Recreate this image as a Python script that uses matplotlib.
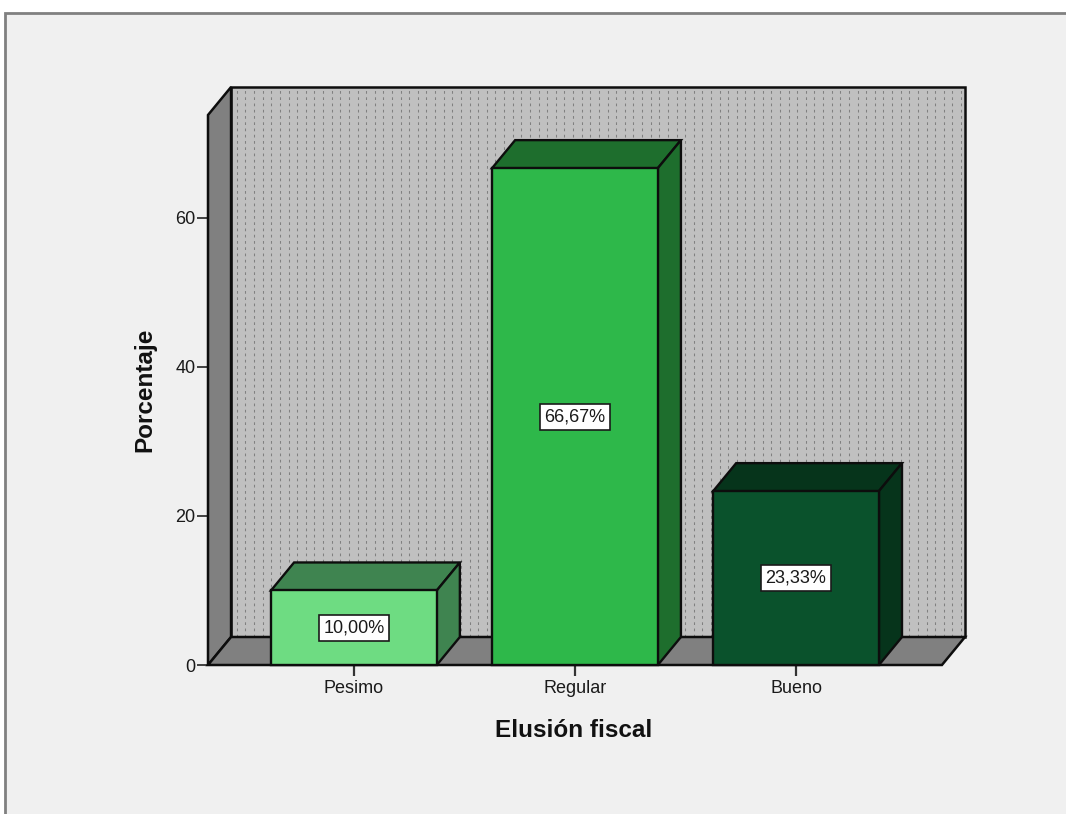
import numpy as np
import matplotlib
matplotlib.use("Agg")
import matplotlib.pyplot as plt
from matplotlib.patches import Polygon, Rectangle

plt.rcParams['font.family'] = ['Liberation Sans', 'DejaVu Sans']

# Data
categories = ["Pesimo", "Regular", "Bueno"]
percentages = [10.00, 66.67, 23.33]
y_ticks = [0, 20, 40, 60]

# Styling
front_colors = ["#6EDC82", "#2EB84A", "#0A522C"]
shade_colors = ["#3F8450", "#1E6E2D", "#06341B"]
wall_color = "#C0C0C0"
side_color = "#808080"
edge = "#0d0d0d"

bar_width = 0.75
x_lo, x_hi = -0.66, 2.66          # floor extent (front)
y_top = 73.8                      # axis maximum (front plane)
dx, dy = 0.1043, 3.758            # depth offset in data units

fig = plt.figure(figsize=(10.66, 8.14), dpi=100)
fig.patch.set_facecolor("white")
fig.add_artist(Rectangle((5 / 1066, -0.1), 1.2, (814 - 13) / 814 + 0.1,
                         transform=fig.transFigure, facecolor="#F0F0F0",
                         edgecolor="#808080", linewidth=2, zorder=0))

ax = fig.add_axes([208 / 1066, 1 - 665 / 814, 757 / 1066, 578 / 814])
ax.set_facecolor("none")
ax.set_xlim(x_lo, x_hi + dx)
ax.set_ylim(0, y_top + dy)
for s in ax.spines.values():
    s.set_visible(False)

# Back wall with dotted texture
ax.add_patch(Polygon([(x_lo + dx, dy), (x_hi + dx, dy), (x_hi + dx, y_top + dy),
                      (x_lo + dx, y_top + dy)], closed=True,
                     facecolor=wall_color, edgecolor=edge, linewidth=1.8,
                     zorder=1, clip_on=False))
cols = np.arange(x_lo + dx + 0.026, x_hi + dx - 0.01, 0.039)
ax.vlines(cols, dy, y_top + dy, colors="#808080", linewidth=0.75,
          linestyles=(0, (2.6, 3.4)), zorder=1.5)

# Left wall and floor
ax.add_patch(Polygon([(x_lo, 0), (x_lo + dx, dy), (x_lo + dx, y_top + dy), (x_lo, y_top)],
                     closed=True, facecolor=side_color, edgecolor=edge,
                     linewidth=1.8, zorder=2, clip_on=False))
ax.add_patch(Polygon([(x_lo, 0), (x_hi, 0), (x_hi + dx, dy), (x_lo + dx, dy)],
                     closed=True, facecolor=side_color, edgecolor=edge,
                     linewidth=1.8, zorder=2, clip_on=False))

# 3D bars
for i, (v, fc, sc) in enumerate(zip(percentages, front_colors, shade_colors)):
    l, r = i - bar_width / 2, i + bar_width / 2
    ax.add_patch(Polygon([(l, v), (r, v), (r + dx, v + dy), (l + dx, v + dy)],
                         closed=True, facecolor=sc, edgecolor=edge, linewidth=1.7,
                         zorder=3, clip_on=False))
    ax.add_patch(Polygon([(r, 0), (r + dx, dy), (r + dx, v + dy), (r, v)],
                         closed=True, facecolor=sc, edgecolor=edge, linewidth=1.7,
                         zorder=3, clip_on=False))
    ax.add_patch(Rectangle((l, 0), bar_width, v, facecolor=fc, edgecolor=edge,
                           linewidth=1.7, zorder=4, clip_on=False))
    ax.text(i, v / 2, f"{v:.2f}".replace(".", ",") + "%", ha="center", va="center",
            fontsize=13, color="#1a1a1a", zorder=5,
            bbox=dict(boxstyle="square,pad=0.25", facecolor="white",
                      edgecolor="#1a1a1a", linewidth=1.2))

# Axes ticks and labels
ax.set_xticks(range(len(categories)))
ax.set_xticklabels(categories)
ax.set_yticks(y_ticks)
ax.set_yticklabels([str(t) for t in y_ticks])
ax.tick_params(axis="x", length=8, width=1.6, color="#333333", labelsize=13,
               labelcolor="#1a1a1a", pad=3)
ax.tick_params(axis="y", length=8, width=1.3, color="#333333", labelsize=13,
               labelcolor="#1a1a1a", pad=1)

ax.set_xlabel("Elusión fiscal", fontsize=17.5, fontweight="bold", color="#111111")
ax.xaxis.set_label_coords(0.4835, -0.114)
ax.xaxis.label.set_va("center")
ax.set_ylabel("Porcentaje", fontsize=17.5, fontweight="bold", color="#111111")
ax.yaxis.set_label_coords(-0.083, 0.476)
ax.yaxis.label.set_va("center")

fig.savefig("out.png", dpi=100, facecolor=fig.get_facecolor())
